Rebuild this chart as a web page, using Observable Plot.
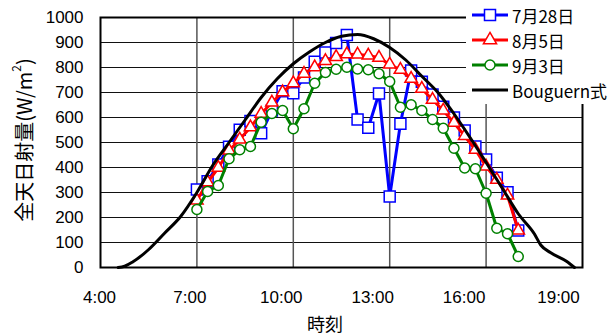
<!DOCTYPE html>
<html><head><meta charset="utf-8">
<script src="https://cdn.jsdelivr.net/npm/d3@7"></script>
<script src="https://cdn.jsdelivr.net/npm/@observablehq/plot@0.6"></script>
<style>
body{margin:0;background:#fff;}
#chart{width:612px;height:335px;}
</style></head><body><div id="chart"></div>
<script>
// ---- data ----
const seriesNames = ["7月28日", "8月5日", "9月3日", "Bouguern式"];
const timeLabels = ["7:00","7:20","7:40","8:00","8:20","8:40","9:00","9:20","9:40","10:00","10:20","10:40","11:00","11:20","11:40","12:00","12:20","12:40","13:00","13:20","13:40","14:00","14:20","14:40","15:00","15:20","15:40","16:00","16:20","16:40","17:00"];
const jul28 = [312,345,412,483,551,586,537,628,705,697,760,823,860,898,930,592,559,696,284,575,788,743,692,643,600,548,484,432,359,301,148];
const aug5  = [268,341,399,468,512,561,615,660,701,737,775,801,826,842,853,852,848,839,812,791,755,715,671,628,579,526,471,404,351,288,148];
const sep3  = [232,304,328,435,471,484,581,616,628,555,635,737,780,793,801,794,791,775,744,641,651,628,592,557,477,398,395,297,157,135,44];
const bouguerTimes  = ["4:33","4:45","5:00","5:30","6:00","6:30","7:00","7:30","8:00","8:30","9:00","9:30","10:00","10:30","11:00","11:30","12:00","12:30","13:00","13:30","14:00","14:30","15:00","15:30","16:00","16:30","17:00","17:30","17:42","18:00","18:30","18:45"];
const bouguerValues = [0,5,22,72,138,205,300,410,500,590,680,755,815,862,900,925,932,915,880,830,765,700,615,520,420,318,215,135,90,60,25,0];
const xTickHours = [4, 7, 10, 13, 16, 19];
const xTickLabels = ["4:00", "7:00", "10:00", "13:00", "16:00", "19:00"];
const yTicks = [0,100,200,300,400,500,600,700,800,900,1000];

// ---- build ----
const hour = s => { const [h, m] = s.split(":").map(Number); return h + m / 60; };
const toRows = vals => timeLabels.map((t, i) => ({t: hour(t), v: vals[i]}));
const rBlue = toRows(jul28), rRed = toRows(aug5), rGreen = toRows(sep3);
const rBou = bouguerTimes.map((t, i) => ({t: hour(t), v: bouguerValues[i]}));

const FONT = '"Liberation Sans", Arial, "Noto Sans CJK JP", sans-serif';
const CJK = '"Noto Sans CJK JP", "Liberation Sans", sans-serif';
const BLUE = "#0000ff", RED = "#ff0000", GREEN = "#008000";
const labelShift = [-1, -7, -12, -17, -22, -24];

const plot = Plot.plot({
  width: 612, height: 335,
  marginLeft: 100, marginRight: 30, marginTop: 17, marginBottom: 68,
  style: {fontFamily: FONT, fontSize: "17px", color: "#000", background: "#fff"},
  x: {domain: [4, 19], axis: null},
  y: {domain: [0, 1000], ticks: yTicks, tickSize: 0, tickPadding: 17, tickFormat: d => String(d), label: null},
  marks: [
    Plot.ruleY(yTicks, {stroke: "#111", strokeWidth: 1}),
    Plot.ruleX(xTickHours.slice(1, -1), {stroke: "#555", strokeWidth: 1.5}),
    Plot.line(rBlue, {x: "t", y: "v", stroke: BLUE, strokeWidth: 3}),
    Plot.dot(rBlue, {x: "t", y: "v", symbol: "square", r: 6.2, stroke: BLUE, fill: "#fff", strokeWidth: 1.5}),
    Plot.line(rRed, {x: "t", y: "v", stroke: RED, strokeWidth: 3}),
    Plot.dot(rRed, {x: "t", y: "v", symbol: "triangle", r: 4.6, stroke: RED, fill: "#fff", strokeWidth: 1.5}),
    Plot.line(rGreen, {x: "t", y: "v", stroke: GREEN, strokeWidth: 3}),
    Plot.dot(rGreen, {x: "t", y: "v", symbol: "circle", r: 5, stroke: GREEN, fill: "#fff", strokeWidth: 1.5}),
    Plot.line(rBou, {x: "t", y: "v", stroke: "#000", strokeWidth: 3, curve: "monotone-x"}),
    Plot.frame({stroke: "#000", strokeWidth: 2}),
    ...xTickHours.map((h, i) => Plot.text([h], {x: d => d, y: 0, dy: 30, dx: labelShift[i], text: () => xTickLabels[i], fontSize: 17}))
  ]
});
document.getElementById("chart").appendChild(plot);

// ---- titles & legend ----
const svg = d3.select(plot);
const yt = svg.append("text")
  .attr("transform", "translate(23,140) rotate(-90)")
  .attr("text-anchor", "middle").attr("dominant-baseline", "central")
  .attr("font-family", CJK).attr("font-size", 20).attr("fill", "#000");
yt.append("tspan").text("全天日射量(W/m");
yt.append("tspan").attr("font-size", 12).attr("dy", -8).text("2");
yt.append("tspan").attr("dy", 8).text(")");

svg.append("text").attr("x", 325).attr("y", 323)
  .attr("text-anchor", "middle").attr("dominant-baseline", "central")
  .attr("font-family", CJK).attr("font-size", 18).attr("fill", "#000").text("時刻");

const lg = svg.append("g");
lg.append("rect").attr("x", 466).attr("y", 0).attr("width", 146).attr("height", 104).attr("fill", "#fff");
const colors = [BLUE, RED, GREEN, "#000"];
const syms = [d3.symbolSquare, d3.symbolTriangle, d3.symbolCircle, null];
const sizes = [121, 75, 80, 0];
seriesNames.forEach((name, i) => {
  const y = 15 + 25 * i;
  lg.append("line").attr("x1", 472).attr("x2", 508).attr("y1", y).attr("y2", y)
    .attr("stroke", colors[i]).attr("stroke-width", 3);
  if (syms[i]) {
    lg.append("path").attr("d", d3.symbol(syms[i], sizes[i])())
      .attr("transform", `translate(490,${y})`)
      .attr("fill", "#fff").attr("stroke", colors[i]).attr("stroke-width", 1.5);
  }
  lg.append("text").attr("x", 512).attr("y", y).attr("dominant-baseline", "central")
    .attr("text-anchor", "start")
    .attr("font-family", CJK).attr("font-size", 17).attr("fill", "#000").text(name);
});
</script>
</body></html>
